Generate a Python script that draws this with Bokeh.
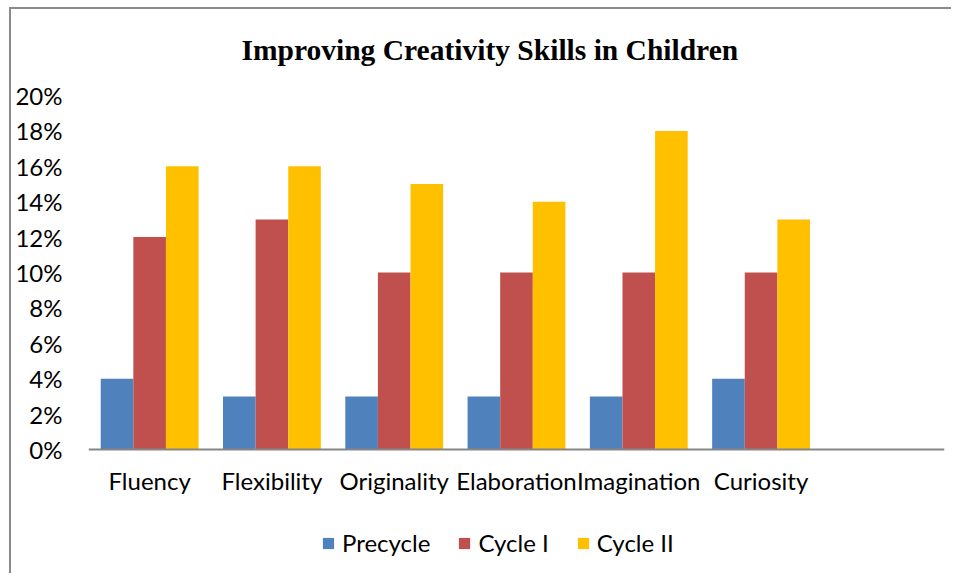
from bokeh.plotting import figure
from bokeh.models import ColumnDataSource, FactorRange, Range1d, FixedTicker, NumeralTickFormatter, Legend, LegendItem
from bokeh.transform import dodge
from bokeh.embed import file_html
from bokeh.resources import INLINE

categories = ["Fluency", "Flexibility", "Originality", "Elaboration", "Imagination", "Curiosity", " "]
precycle = [0.04, 0.03, 0.03, 0.03, 0.03, 0.04, 0.0]
cycle1 = [0.12, 0.13, 0.10, 0.10, 0.10, 0.10, 0.0]
cycle2 = [0.16, 0.16, 0.15, 0.14, 0.18, 0.13, 0.0]
series_names = ["Precycle", "Cycle I", "Cycle II"]
colors = ["#4F81BD", "#C0504D", "#FFC000"]
yticks = [0, 0.02, 0.04, 0.06, 0.08, 0.10, 0.12, 0.14, 0.16, 0.18, 0.20]

src = ColumnDataSource(dict(cat=categories, pre=precycle, c1=cycle1, c2=cycle2))

W, H = 951, 573
frame_top, frame_left, frame_right, axis_y = 95, 88, 944, 449
y_max = 0.20
px_per_unit = (axis_y - frame_top) / y_max
y_min = -(H - axis_y) / px_per_unit  # extends frame below the axis so legend sits inside it

p = figure(x_range=FactorRange(*categories), y_range=Range1d(y_min, y_max),
           width=W, height=H, output_backend="svg", toolbar_location=None,
           min_border_left=frame_left, min_border_right=W - frame_right,
           min_border_top=frame_top, min_border_bottom=0)
p.border_fill_color = None
p.styles = {
    "background-image": "linear-gradient(#8a8a8a,#8a8a8a), linear-gradient(#8a8a8a,#8a8a8a)",
    "background-size": "2px 100%, 100% 2px",
    "background-position": "9px 8px, 9px 7px",
    "background-repeat": "no-repeat",
}

bw = 0.2667
renderers = []
for field, off, col in zip(["pre", "c1", "c2"], [-bw, 0, bw], colors):
    r = p.vbar(x=dodge("cat", off, range=p.x_range), top=field, width=bw, source=src,
               fill_color=col, line_color=None)
    renderers.append(r)

p.title.text = "Improving Creativity Skills in Children"
p.title.text_font = "Liberation Serif"
p.title.text_font_size = "29.5px"
p.title.text_font_style = "bold"
p.title.text_color = "#000000"
p.title.align = "left"
p.title.offset = 153
p.title.standoff = 60

p.xgrid.visible = False
p.ygrid.visible = False
p.outline_line_color = None

p.yaxis.ticker = FixedTicker(ticks=yticks)
p.yaxis.formatter = NumeralTickFormatter(format="0%")
p.yaxis.axis_line_color = None
p.yaxis.major_tick_line_color = None
p.yaxis.minor_tick_line_color = None
p.yaxis.major_tick_out = 0
p.yaxis.major_label_standoff = 26
p.yaxis.major_label_text_font = "Lato"
p.yaxis.major_label_text_font_size = "24px"
p.yaxis.major_label_text_color = "#000000"

p.xaxis.fixed_location = 0
p.xaxis.axis_line_color = "#868686"
p.xaxis.axis_line_width = 2
p.xaxis.major_tick_line_color = None
p.xaxis.major_tick_out = 0
p.xaxis.major_label_standoff = 16
p.xaxis.major_label_text_font = "Lato"
p.xaxis.major_label_text_font_size = "24px"
p.xaxis.major_label_text_color = "#000000"

legend = Legend(items=[LegendItem(label=n, renderers=[r]) for n, r in zip(series_names, renderers)],
                orientation="horizontal", location=(321 - frame_left, 16),
                glyph_width=14, glyph_height=14, label_standoff=7, spacing=27,
                padding=0, margin=0, border_line_color=None, background_fill_alpha=0,
                label_text_font="Lato", label_text_font_size="24px", label_text_color="#000000")
p.add_layout(legend, "center")

open("out.html", "w").write(file_html(p, INLINE))
